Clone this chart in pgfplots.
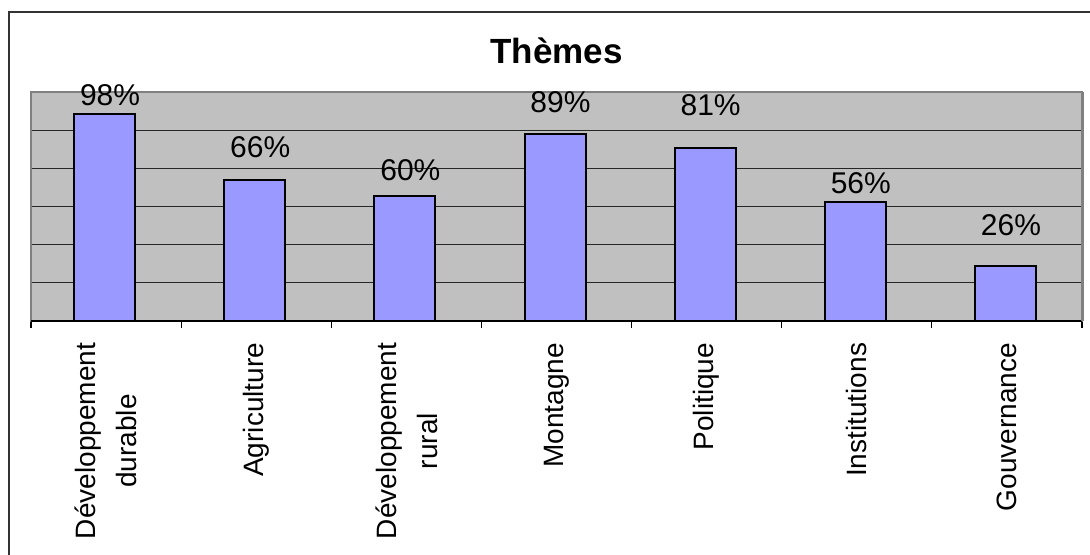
\documentclass[border=0pt]{standalone}
\usepackage{fontspec}
\setmainfont{Liberation Sans}
\usepackage{pgfplots}
\pgfplotsset{compat=1.18}
\definecolor{plotbg}{HTML}{C0C0C0}
\definecolor{barfill}{HTML}{9999FF}
\definecolor{plotedge}{HTML}{808080}

\begin{document}
\begin{tikzpicture}
\path[use as bounding box] (-15.5pt,-117pt) rectangle (529.5pt,160.5pt);
\begin{axis}[
    at={(0,0)}, anchor=south west,
    scale only axis, width=525.5pt, height=114.5pt,
    xmin=-0.5, xmax=6.5,
    ymin=0, ymax=108,
    axis background/.style={fill=plotbg},
    axis line style={plotedge, line width=1pt},
    xtick={0,...,6},
    xticklabels={{Développement\\durable},Agriculture,{Développement\\rural},Montagne,Politique,Institutions,Gouvernance},
    major x tick style={draw=none},
    minor xtick={-0.5,0.5,...,6.5},
    minor x tick style={black, line width=0.6pt},
    minor tick length=3.5pt,
    xtick align=outside,
    xtick pos=left,
    ytick={18,36,54,72,90},
    yticklabels={},
    ytick style={draw=none},
    ymajorgrids=true,
    grid style={black!85, line width=0.5pt},
    xticklabel style={rotate=90, anchor=east, align=center, inner sep=0pt,
        font=\fontsize{14}{20.5}\selectfont},
    xticklabel shift=6.5pt,
    clip=false,
]

% bars
\addplot[ybar, bar width=30.5pt, bar shift=-0.75pt,
    fill=barfill, draw=black, line width=1pt]
    coordinates {
    (0,97.6)(1,66.5)(2,58.8)(3,88.0)(4,81.4)(5,56.0)(6,25.9)
    };

% data labels (baseline positions as in the original)
\addplot[draw=none, mark=none, point meta=explicit symbolic,
    nodes near coords={\pgfplotspointmeta\%},
    every node near coord/.append style={anchor=base, inner sep=0pt,
        xshift=2pt, text=black, font=\fontsize{15}{18}\selectfont}]
    coordinates {
    (0,101.4)[98] (1,77.3)[66] (2,66.2)[60] (3,98.1)[89]
    (4,96.7)[81] (5,60.2)[56] (6,40.1)[26]
    };

\draw[black, line width=1pt] (rel axis cs:0,0) -- (rel axis cs:1,0);
\draw[plotedge, line width=1.5pt] (rel axis cs:1,0) -- (rel axis cs:1,1);
\end{axis}

\node[anchor=base, font=\fontsize{17.5}{21}\selectfont\bfseries] at (262.75pt,128.5pt) {Thèmes};
\draw[black!80, line width=1pt] (-11pt,-130pt) -- (-11pt,154.5pt) -- (540pt,154.5pt);
\end{tikzpicture}
\end{document}
